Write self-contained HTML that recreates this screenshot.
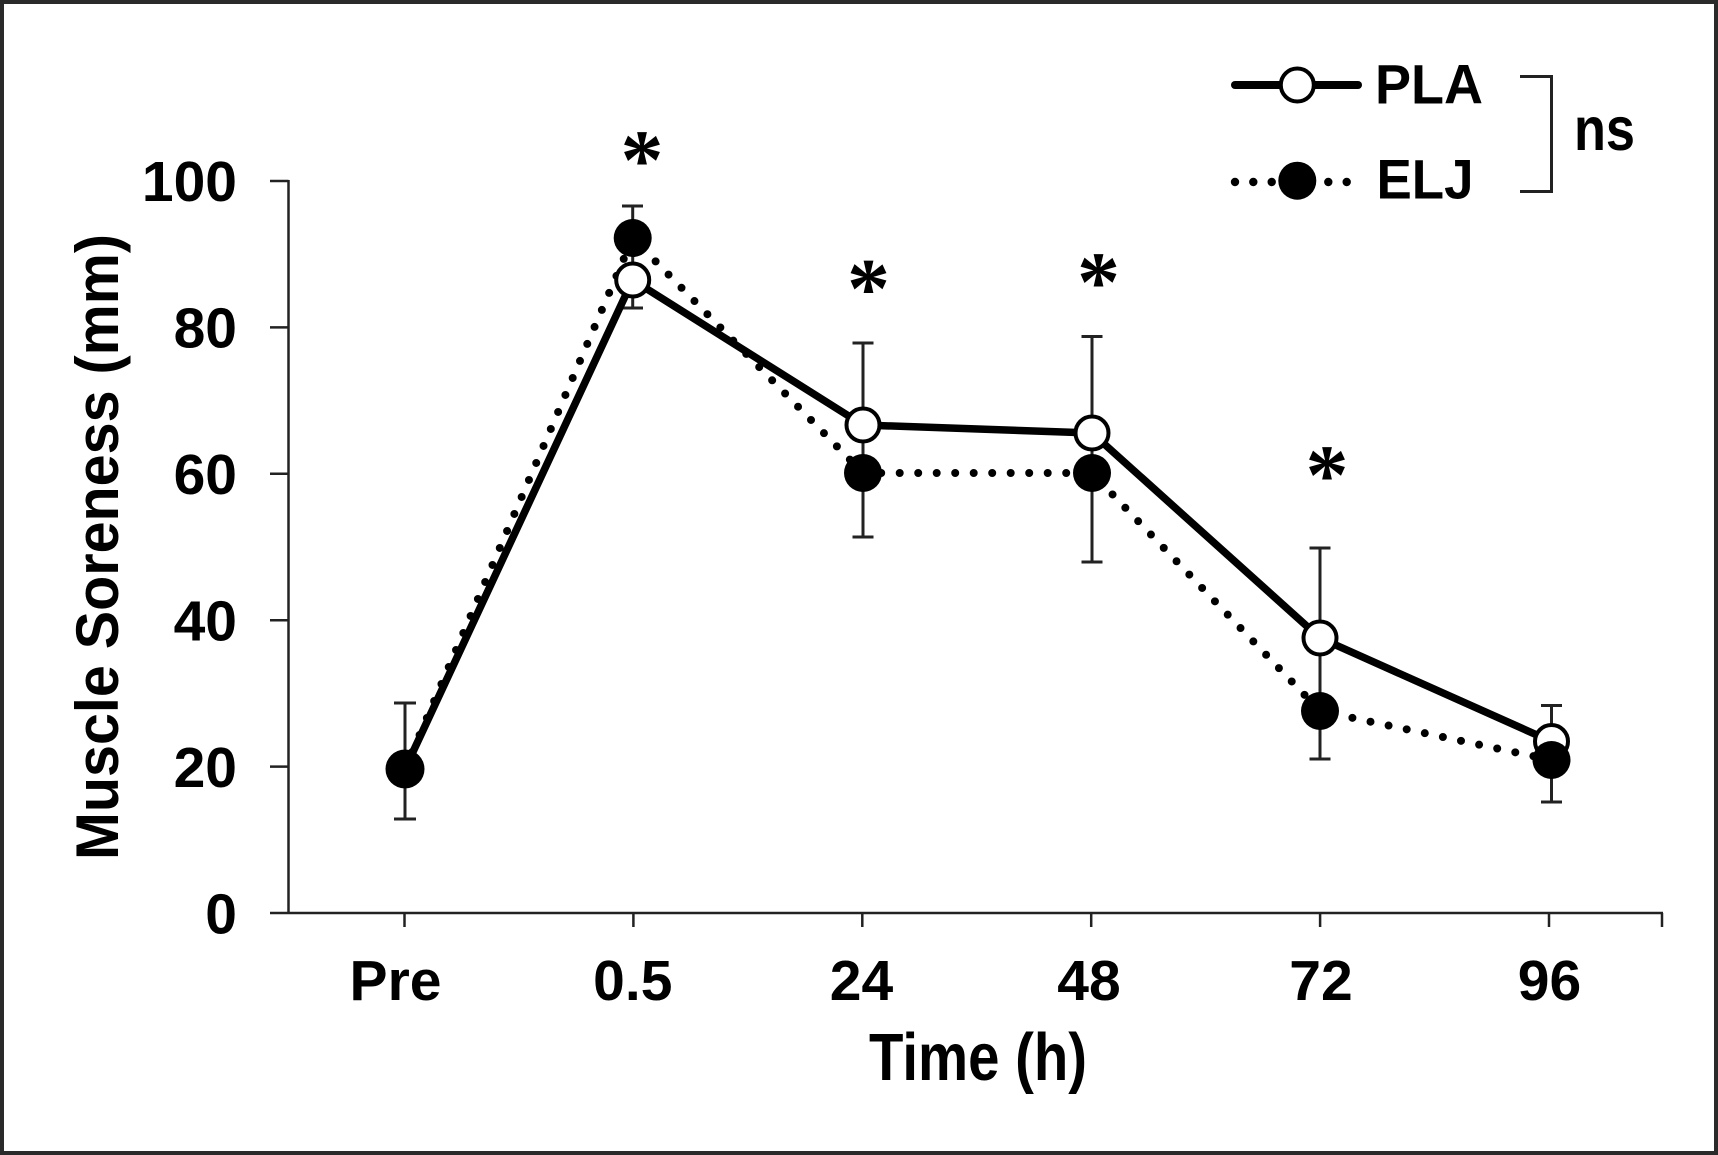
<!DOCTYPE html>
<html>
<head>
<meta charset="utf-8">
<style>
  html, body { margin: 0; padding: 0; background: #fff; }
  svg { display: block; }
  text { font-family: "Liberation Sans", Arial, sans-serif; font-weight: bold; fill: #000; }
  .ast { font-family: "Liberation Serif", "Times New Roman", serif; font-weight: bold; }
</style>
</head>
<body>
<svg width="1718" height="1155" viewBox="0 0 1718 1155" xmlns="http://www.w3.org/2000/svg">
  <rect x="0" y="0" width="1718" height="1155" fill="#fff"/>
  <rect x="2" y="2" width="1714" height="1151" fill="none" stroke="#2a2a2a" stroke-width="4"/>

  <!-- Axes -->
  <g stroke="#222" stroke-width="2.5" fill="none">
    <line x1="288.5" y1="180" x2="288.5" y2="914"/>
    <line x1="270" y1="913" x2="1663" y2="913"/>
    <!-- y ticks -->
    <line x1="270" y1="181" x2="288.5" y2="181"/>
    <line x1="270" y1="327.4" x2="288.5" y2="327.4"/>
    <line x1="270" y1="473.8" x2="288.5" y2="473.8"/>
    <line x1="270" y1="620.2" x2="288.5" y2="620.2"/>
    <line x1="270" y1="766.6" x2="288.5" y2="766.6"/>
    <!-- x ticks -->
    <line x1="404.5" y1="913" x2="404.5" y2="927"/>
    <line x1="633.4" y1="913" x2="633.4" y2="927"/>
    <line x1="862.3" y1="913" x2="862.3" y2="927"/>
    <line x1="1091.2" y1="913" x2="1091.2" y2="927"/>
    <line x1="1320.1" y1="913" x2="1320.1" y2="927"/>
    <line x1="1549" y1="913" x2="1549" y2="927"/>
    <line x1="1662" y1="913" x2="1662" y2="927"/>
  </g>

  <!-- Y tick labels -->
  <g font-size="57" text-anchor="end">
    <text x="237" y="201">100</text>
    <text x="237" y="347.5">80</text>
    <text x="237" y="494">60</text>
    <text x="237" y="640.5">40</text>
    <text x="237" y="787">20</text>
    <text x="237" y="933.5">0</text>
  </g>

  <!-- X tick labels -->
  <g font-size="57" text-anchor="middle">
    <text x="395.5" y="1000">Pre</text>
    <text x="632.8" y="1000">0.5</text>
    <text x="861.5" y="1000">24</text>
    <text x="1089" y="1000">48</text>
    <text x="1321" y="1000">72</text>
    <text x="1549.5" y="1000">96</text>
  </g>

  <!-- Axis titles -->
  <text x="869" y="1080" font-size="67" textLength="218" lengthAdjust="spacingAndGlyphs">Time (h)</text>
  <text transform="translate(118,860) rotate(-90)" x="0" y="0" font-size="60" textLength="626" lengthAdjust="spacingAndGlyphs">Muscle Soreness (mm)</text>

  <!-- Error bars -->
  <g stroke="#222" stroke-width="3" fill="none">
    <line x1="405" y1="703" x2="405" y2="819"/>
    <line x1="394" y1="703" x2="416" y2="703"/>
    <line x1="394" y1="819" x2="416" y2="819"/>
    <line x1="632.7" y1="206" x2="632.7" y2="308"/>
    <line x1="622" y1="206" x2="643" y2="206"/>
    <line x1="622" y1="308" x2="643" y2="308"/>
    <line x1="863" y1="343" x2="863" y2="537"/>
    <line x1="852.5" y1="343" x2="873.5" y2="343"/>
    <line x1="852.5" y1="537" x2="873.5" y2="537"/>
    <line x1="1092" y1="336.5" x2="1092" y2="562"/>
    <line x1="1081.5" y1="336.5" x2="1102.5" y2="336.5"/>
    <line x1="1081.5" y1="562" x2="1102.5" y2="562"/>
    <line x1="1320" y1="548" x2="1320" y2="759"/>
    <line x1="1309.5" y1="548" x2="1330.5" y2="548"/>
    <line x1="1309.5" y1="759" x2="1330.5" y2="759"/>
    <line x1="1551.5" y1="705.5" x2="1551.5" y2="802"/>
    <line x1="1541" y1="705.5" x2="1562" y2="705.5"/>
    <line x1="1541" y1="802" x2="1562" y2="802"/>
  </g>

  <!-- PLA line (solid) -->
  <polyline points="405,769 632.7,280 863,425 1092,433 1320,638 1551.5,741.5" fill="none" stroke="#000" stroke-width="7.5" stroke-linejoin="round"/>
  <!-- ELJ line (dotted) -->
  <polyline points="405,769 632.7,238 863,473 1092,473 1320,711 1551.5,760" fill="none" stroke="#000" stroke-width="8" stroke-linecap="round" stroke-dasharray="0 18.5"/>

  <!-- PLA markers -->
  <g fill="#fff" stroke="#000" stroke-width="4">
    <circle cx="405" cy="769" r="16.5"/>
    <circle cx="632.7" cy="280" r="16.5"/>
    <circle cx="863" cy="425" r="16.5"/>
    <circle cx="1092" cy="433" r="16.5"/>
    <circle cx="1320" cy="638" r="16.5"/>
    <circle cx="1551.5" cy="741.5" r="16.5"/>
  </g>
  <!-- ELJ markers -->
  <g fill="#000">
    <circle cx="405" cy="769" r="19.5"/>
    <circle cx="632.7" cy="238" r="19"/>
    <circle cx="863" cy="473" r="19"/>
    <circle cx="1092" cy="473" r="19"/>
    <circle cx="1320" cy="711" r="19"/>
    <circle cx="1551.5" cy="760" r="19"/>
  </g>

  <!-- Asterisks -->
  <g font-size="86" text-anchor="middle">
    <text class="ast" x="642" y="189">*</text>
    <text class="ast" x="868.5" y="317.5">*</text>
    <text class="ast" x="1098.5" y="311">*</text>
    <text class="ast" x="1327" y="504">*</text>
  </g>

  <!-- Legend -->
  <line x1="1235" y1="85" x2="1358" y2="85" stroke="#000" stroke-width="8" stroke-linecap="round"/>
  <circle cx="1297.3" cy="85" r="16.5" fill="#fff" stroke="#000" stroke-width="4"/>
  <g fill="#000">
    <circle cx="1235" cy="182" r="4.2"/>
    <circle cx="1253.3" cy="182" r="4.2"/>
    <circle cx="1271.7" cy="182" r="4.2"/>
    <circle cx="1328.3" cy="182" r="4.2"/>
    <circle cx="1346.7" cy="182" r="4.2"/>
    <circle cx="1297.3" cy="180.7" r="19"/>
  </g>
  <text x="1375" y="103.5" font-size="56" textLength="108" lengthAdjust="spacingAndGlyphs">PLA</text>
  <text x="1376.5" y="198.5" font-size="56" textLength="97" lengthAdjust="spacingAndGlyphs">ELJ</text>
  <path d="M1520 76.5 L1551.5 76.5 L1551.5 191.5 L1520 191.5" fill="none" stroke="#222" stroke-width="3"/>
  <text x="1574" y="150" font-size="61" textLength="61" lengthAdjust="spacingAndGlyphs">ns</text>
</svg>
</body>
</html>
